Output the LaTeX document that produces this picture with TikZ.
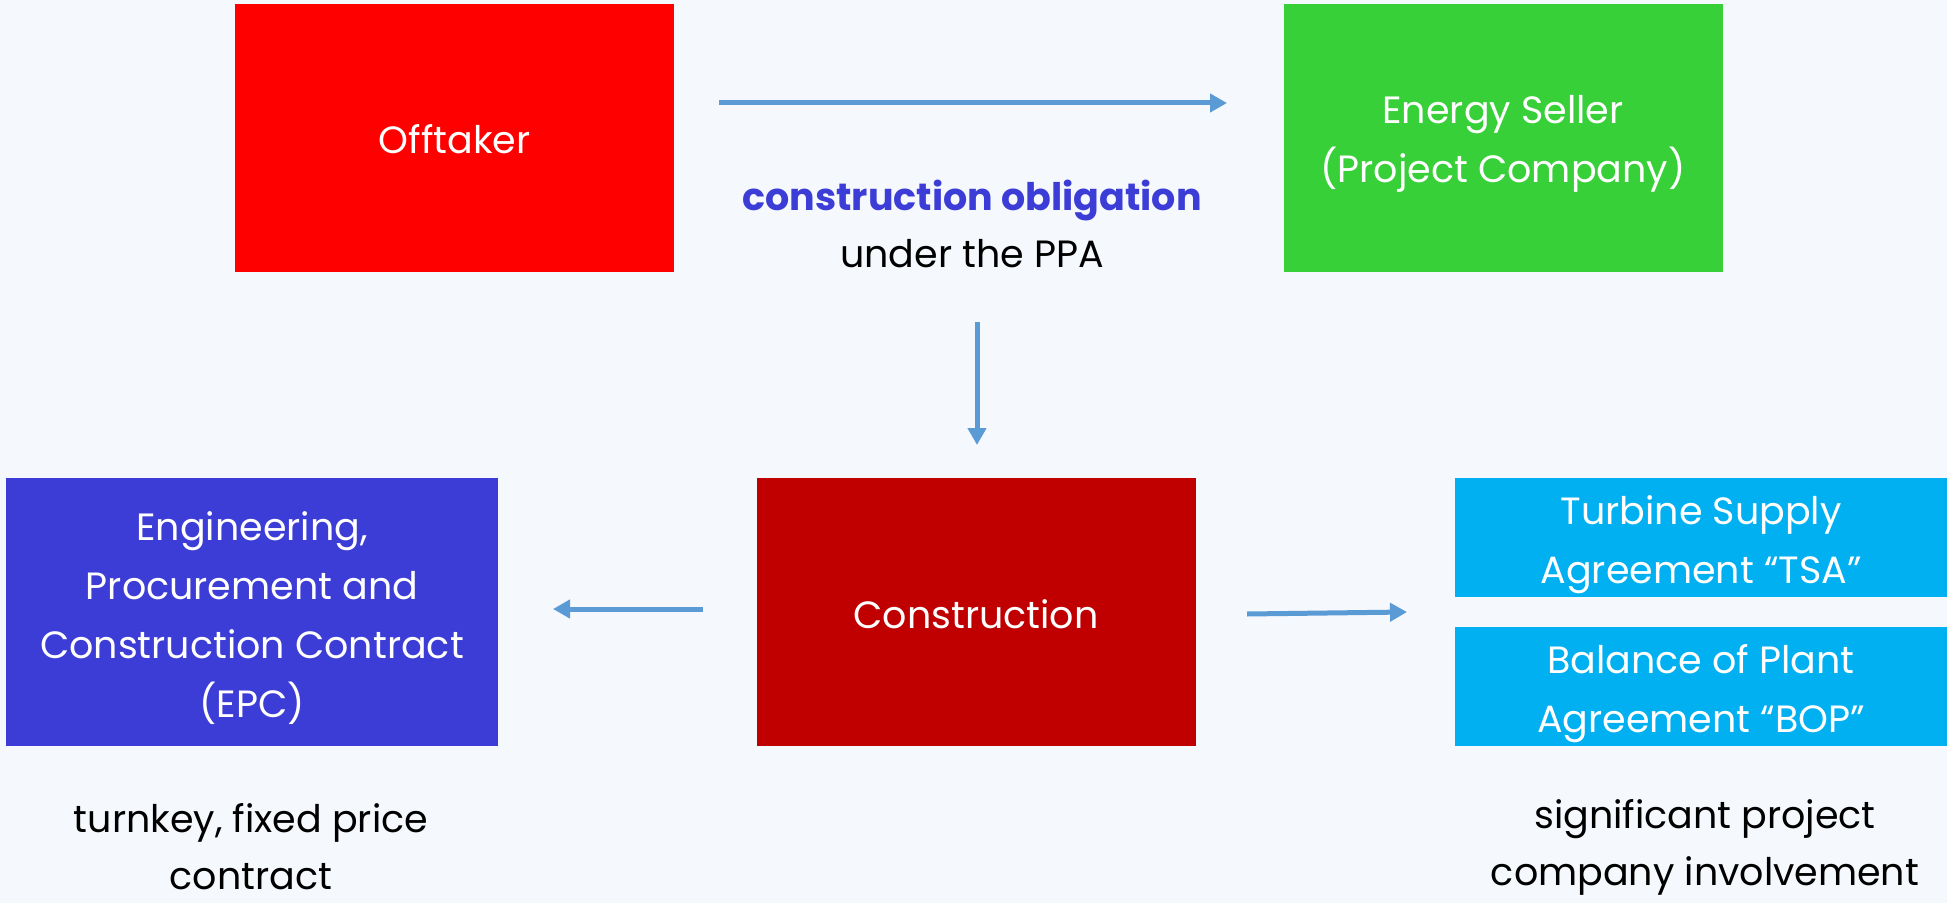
\documentclass[tikz,border=0pt]{standalone}
\usepackage{fontspec}
\setmainfont{Poppins}
\usetikzlibrary{arrows.meta}
\definecolor{bg}{HTML}{F5F8FC}
\definecolor{offred}{HTML}{FF0000}
\definecolor{sellgreen}{HTML}{38D038}
\definecolor{epcblue}{HTML}{3C3CD6}
\definecolor{conred}{HTML}{C00000}
\definecolor{agrcyan}{HTML}{00B0F0}
\definecolor{arrowblue}{HTML}{5B9BD5}
\begin{document}
\begin{tikzpicture}[x=0.5pt,y=-0.5pt,
  box/.style={rectangle, inner sep=0pt},
  boxtext/.style={inner sep=0pt, align=center, text=white, font=\fontsize{19}{29.5}\selectfont},
  bigbox/.style={box, minimum width=219.5pt, minimum height=134pt},
  widebox/.style={box, minimum width=246pt, minimum height=134pt},
  agrbox/.style={box, fill=agrcyan, minimum width=246pt, minimum height=59.5pt},
  conn/.style={draw=arrowblue, line width=2.5pt, -{Triangle[length=8.5pt,width=9pt]}},
  lbl/.style={align=center, inner sep=0pt, font=\fontsize{19}{28.5}\selectfont}]
\fill[bg] (0,0) rectangle (1947,903);
\useasboundingbox (0,0) rectangle (1947,903);
% boxes
\node[bigbox, fill=offred] (off) at (454.5,138) {};
\node[bigbox, fill=sellgreen] (sell) at (1503,138) {};
\node[widebox, fill=epcblue] (epc) at (252,612) {};
\node[bigbox, fill=conred] (con) at (976,612) {};
\node[agrbox] (tsa) at (1701,537) {};
\node[agrbox] (bop) at (1701,686) {};
% box texts
\node[boxtext] (offT) at ([yshift=-0.5pt]off.center) {Offtaker};
\node[boxtext] (sellT) at ([yshift=-3pt]sell.center) {Energy Seller\\(Project Company)};
\node[boxtext] (epcT) at ([yshift=-3pt]epc.center) {Engineering,\\Procurement and\\Construction Contract\\(EPC)};
\node[boxtext] (conT) at ([yshift=-1pt]con.center) {Construction};
\node[boxtext] (tsaT) at ([yshift=-4pt]tsa.center) {Turbine Supply\\Agreement “TSA”};
\node[boxtext] (bopT) at ([yshift=-4pt]bop.center) {Balance of Plant\\Agreement “BOP”};
% labels
\node[lbl] (oblig) at (972,224) {{\color{epcblue}\bfseries construction obligation}\\under the PPA};
\node[lbl] (turnkey) at (251,847) {turnkey, fixed price\\contract};
\node[lbl] (signif) at (1705,847) {significant project\\company involvement};
% arrow ends
\coordinate (a1s) at (719,103);
\coordinate (a1e) at (1227,103);
\coordinate (a2s) at (977,322);
\coordinate (a2e) at (977,445);
\coordinate (a3s) at (703,609);
\coordinate (a3e) at (553,609);
\coordinate (a4s) at (1247,614);
\coordinate (a4e) at (1407,612);
\draw[conn] (a1s) -- (a1e);
\draw[conn] (a2s) -- (a2e);
\draw[conn] (a3s) -- (a3e);
\draw[conn] (a4s) -- (a4e);
\end{tikzpicture}
\end{document}
